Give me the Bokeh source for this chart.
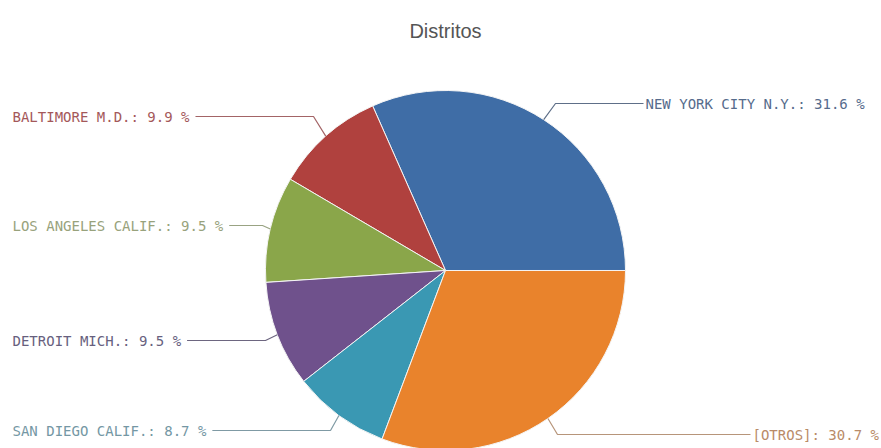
import math
from bokeh.plotting import figure
from bokeh.models import Range1d, ColumnDataSource
from bokeh.core.properties import value
from bokeh.embed import file_html
from bokeh.resources import INLINE

# ---- data ----
names = ["NEW YORK CITY N.Y.", "BALTIMORE M.D.", "LOS ANGELES CALIF.",
         "DETROIT MICH.", "SAN DIEGO CALIF.", "[OTROS]"]
shares = [31.6, 9.9, 9.5, 9.5, 8.7, 30.7]

# ---- style / layout ----
slice_colors = ["#3f6da6", "#b0413e", "#8aa64a", "#6f518c", "#3a98b3", "#e9832c"]
text_colors = ["#566b8c", "#a4585a", "#98a27c", "#675f7e", "#7497a4", "#b98b68"]
line_colors = ["#5e6f88", "#a36466", "#99a383", "#6d6680", "#7f9aa4", "#b7957a"]
sides = ["right", "left", "left", "left", "left", "right"]
label_y_img = [103, 116, 225, 340, 430, 434]
knee_x = [555, 313, 262, 265, 330, 557]
right_text_x = {0: 645, 5: 752}
LEFT_X = 12
FONT = "DejaVu Sans Mono"
FSIZE = 14

W, H = 881, 448
cx_img, cy_img, R = 445, 270, 180


def to_y(img_y):
    return H - img_y


def text_width(s):
    return len(s) * 0.602 * FSIZE


p = figure(width=W, height=H, output_backend="svg", toolbar_location=None,
           x_range=Range1d(0, W), y_range=Range1d(0, H),
           min_border=0, outline_line_color=None)
p.axis.visible = False
p.grid.visible = False
p.background_fill_color = "white"
p.border_fill_color = "white"

total = sum(shares)
starts, ends, mids = [], [], []
acc = 0.0
for s in shares:
    a0 = acc / total * 2 * math.pi
    acc += s
    a1 = acc / total * 2 * math.pi
    starts.append(a0)
    ends.append(a1)
    mids.append((a0 + a1) / 2)

src = ColumnDataSource(dict(x=[cx_img] * len(shares), y=[to_y(cy_img)] * len(shares),
                            start=starts, end=ends, color=slice_colors))
p.wedge(x="x", y="y", radius=R, start_angle="start", end_angle="end",
        fill_color="color", line_color="#f4f4f4", line_width=1, source=src)

labels = [f"{n}: {v} %" for n, v in zip(names, shares)]
xs_lines, ys_lines = [], []
tx, ty, tcol = [], [], []
for i, lab in enumerate(labels):
    ex = cx_img + R * math.cos(mids[i])
    ey = to_y(cy_img) + R * math.sin(mids[i])
    ly = to_y(label_y_img[i])
    if sides[i] == "right":
        t_x = right_text_x[i]
        end_x = t_x - 2
    else:
        t_x = LEFT_X
        end_x = LEFT_X + text_width(lab) + 6
    xs_lines.append([ex, knee_x[i], end_x])
    ys_lines.append([ey, ly, ly])
    tx.append(t_x)
    ty.append(ly)
    tcol.append(text_colors[i])

p.multi_line(xs=xs_lines, ys=ys_lines, line_color=line_colors, line_width=1.2)
p.text(x=tx, y=ty, text=labels, text_color=tcol, text_font=value(FONT),
       text_font_size=f"{FSIZE}px", text_baseline="middle", text_align="left")

p.text(x=[445], y=[to_y(30)], text=["Distritos"], text_color="#555555",
       text_font=value("Liberation Sans"), text_font_size="20px",
       text_baseline="middle", text_align="center")

open("out.html", "w").write(file_html(p, INLINE))
